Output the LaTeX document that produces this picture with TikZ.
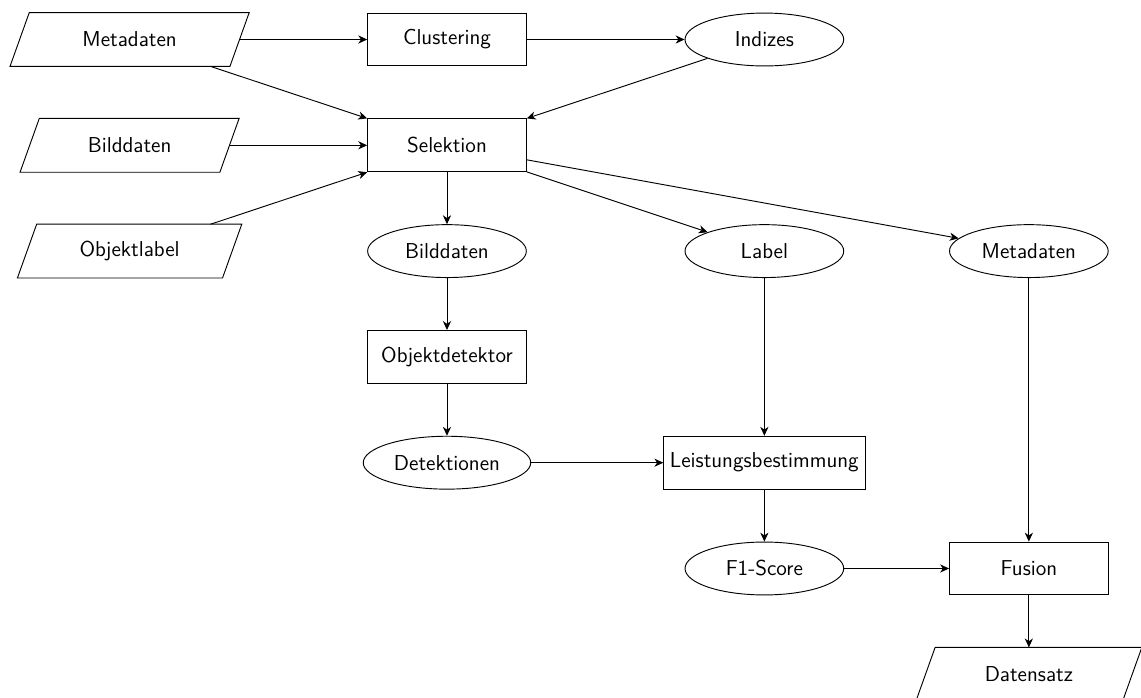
\documentclass[tikz,border=0pt]{standalone}
\usetikzlibrary{shapes.geometric,arrows.meta}
\begin{document}
\begin{tikzpicture}[
    line width=0.5pt,
    font=\sffamily\fontsize{11.6}{14}\selectfont,
    every node/.style={minimum height=1cm},
    procbox/.style={draw, rectangle, minimum width=3cm},
    databox/.style={draw, ellipse, minimum width=3cm},
    iobox/.style={rectangle, inner sep=0pt},
    flow/.style={-{Stealth[length=4.8pt,width=4.4pt,inset=1.5pt]}}
  ]
  \useasboundingbox (-8.45,-10.448) rectangle (13.12,2.747);

  % input / output data (parallelograms drawn around these frames)
  \node[iobox, minimum width=4.14cm] (meta)  at (-6, 2) {Metadaten};
  \node[iobox, minimum width=3.76cm] (bildin) at (-6, 0) {Bilddaten};
  \node[iobox, minimum width=3.86cm] (objl)  at (-6,-2) {Objektlabel};
  \node[iobox, minimum width=3.89cm] (daten) at (11,-10) {Datensatz};
  \foreach \n in {meta,bildin,objl,daten}
    \draw ([xshift=0.182cm]\n.north west) -- ([xshift=0.182cm]\n.north east)
       -- ([xshift=-0.182cm]\n.south east) -- ([xshift=-0.182cm]\n.south west) -- cycle;

  % processing steps
  \node[procbox] (clus)  at (0, 2) {Clustering};
  \node[procbox] (sel)   at (0, 0) {Selektion};
  \node[procbox] (det)   at (0,-4) {Objektdetektor};
  \node[procbox] (leist) at (6,-6) {Leistungsbestimmung};
  \node[procbox] (fus)   at (11,-8) {Fusion};

  % intermediate data
  \node[databox] (idx)     at (6, 2)  {Indizes};
  \node[databox] (bildout) at (0,-2)  {Bilddaten};
  \node[databox] (label)   at (6,-2)  {Label};
  \node[databox] (metaout) at (11,-2) {Metadaten};
  \node[databox] (dets)    at (0,-6)  {Detektionen};
  \node[databox] (f1)      at (6,-8)  {F1-Score};

  % data flow
  \draw[flow] (meta) -- (clus);
  \draw[flow] (clus) -- (idx);
  \draw[flow] (meta) -- (sel.north west);
  \draw[flow] (idx) -- (sel.north east);
  \draw[flow] (bildin) -- (sel);
  \draw[flow] (objl) -- (sel.south west);
  \draw[flow] (sel) -- (bildout);
  \draw[flow] (sel) -- (label);
  \draw[flow] (sel) -- (metaout);
  \draw[flow] (bildout) -- (det);
  \draw[flow] (det) -- (dets);
  \draw[flow] (dets) -- (leist);
  \draw[flow] (label) -- (leist);
  \draw[flow] (leist) -- (f1);
  \draw[flow] (f1) -- (fus);
  \draw[flow] (metaout) -- (fus);
  \draw[flow] (fus) -- (daten);
\end{tikzpicture}
\end{document}
